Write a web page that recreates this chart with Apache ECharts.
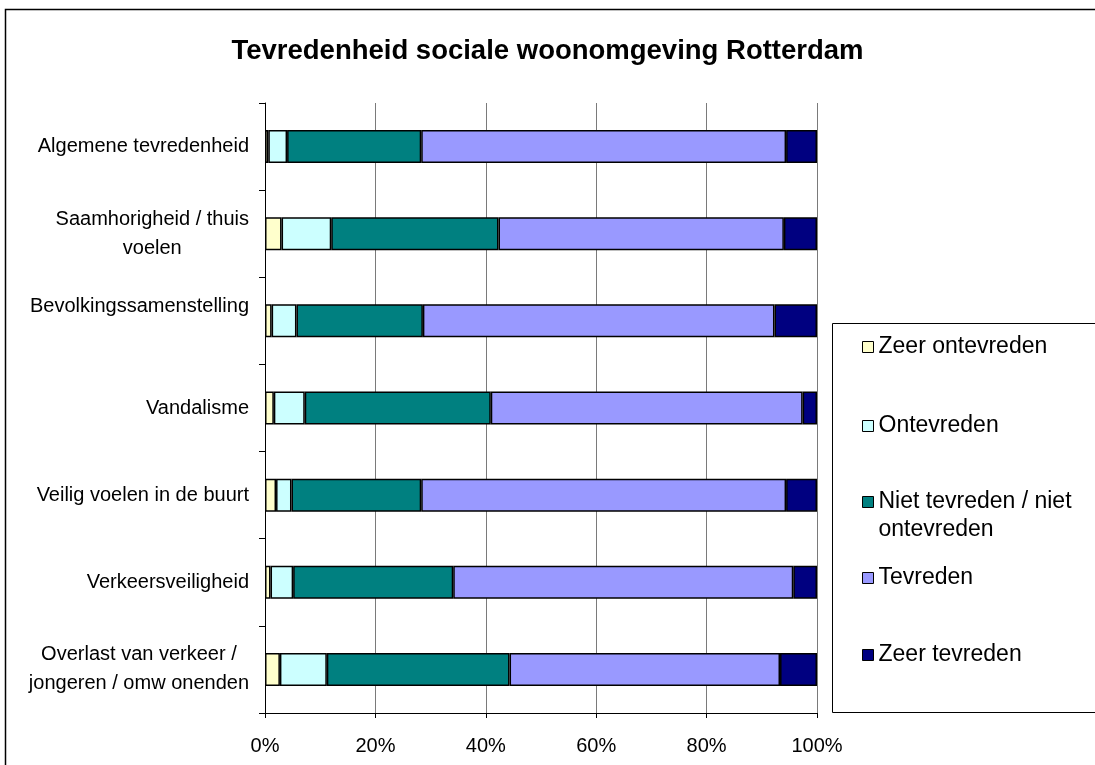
<!DOCTYPE html>
<html>
<head>
<meta charset="utf-8">
<title>Tevredenheid sociale woonomgeving Rotterdam</title>
<script src="https://cdn.jsdelivr.net/npm/echarts@6/dist/echarts.min.js"></script>
<style>
  html, body { margin: 0; padding: 0; background: #ffffff; }
  #chart { width: 1095px; height: 765px; }
</style>
</head>
<body>
<div id="chart"></div>
<script>
// Aspects of the social living environment, listed top to bottom
const categories = [
  'Algemene tevredenheid',
  'Saamhorigheid / thuis\nvoelen',
  'Bevolkingssamenstelling',
  'Vandalisme',
  'Veilig voelen in de buurt',
  'Verkeersveiligheid',
  'Overlast van verkeer /\njongeren / omw onenden'
];

// Share of respondents per answer (percent)
const zeerOntevreden = [0.6, 3.0, 1.2, 1.6, 2.0, 1.0, 2.7];
const ontevreden     = [3.4, 9.0, 4.5, 5.6, 2.8, 4.1, 8.5];
const neutraal       = [24.3, 30.3, 22.9, 33.7, 23.5, 29.0, 33.1];
const tevreden       = [66.1, 51.7, 63.7, 56.5, 66.1, 61.6, 49.0];
const zeerTevreden   = [5.6, 6.0, 7.7, 2.6, 5.6, 4.3, 6.7];

const seriesNames = [
  'Zeer ontevreden',
  'Ontevreden',
  'Niet tevreden / niet\nontevreden',
  'Tevreden',
  'Zeer tevreden'
];
const seriesData = [zeerOntevreden, ontevreden, neutraal, tevreden, zeerTevreden];
const seriesColors = ['#FFFFCC', '#CCFFFF', '#008080', '#9999FF', '#000080'];

const xTicks = [0, 20, 40, 60, 80, 100];

const FONT = '"Liberation Sans", Arial, sans-serif';
const LEGEND_LH = 28;

// One legend block per series so each entry sits on its own row;
// a wrapped entry keeps its marker level with its first line.
const legendRowCenters = [347, 426, 502, 578, 655];
const legends = seriesNames.map(function (name, i) {
  const twoLines = name.indexOf('\n') >= 0;
  return {
    data: [name],
    orient: 'vertical',
    left: 862,
    top: twoLines ? legendRowCenters[i] - 1.5 * LEGEND_LH : legendRowCenters[i] - LEGEND_LH / 2,
    padding: 0,
    itemWidth: 11,
    itemHeight: 11,
    icon: 'rect',
    selectedMode: false,
    formatter: function (n) {
      return n.indexOf('\n') >= 0 ? ' \n' + n : n;
    },
    itemStyle: { borderColor: '#000000', borderWidth: 1 },
    textStyle: {
      fontFamily: FONT,
      fontSize: 23,
      color: '#000000',
      lineHeight: LEGEND_LH
    }
  };
});

const chart = echarts.init(document.getElementById('chart'), null, { renderer: 'canvas' });

chart.setOption({
  backgroundColor: '#ffffff',
  animation: false,
  title: {
    text: 'Tevredenheid sociale woonomgeving Rotterdam',
    left: 'center',
    top: 32,
    padding: [5, 5, 5, 19],
    textStyle: {
      fontFamily: FONT,
      fontSize: 27.5,
      fontWeight: 'bold',
      color: '#000000'
    }
  },
  legend: legends,
  grid: {
    left: 265,
    right: 278,
    top: 103,
    bottom: 52,
    containLabel: false
  },
  xAxis: {
    type: 'value',
    min: xTicks[0],
    max: xTicks[xTicks.length - 1],
    interval: xTicks[1] - xTicks[0],
    axisLine: { show: true, lineStyle: { color: '#000000', width: 1 } },
    axisTick: { show: true, length: 5, lineStyle: { color: '#000000' } },
    axisLabel: {
      formatter: '{value}%',
      fontFamily: FONT,
      fontSize: 20,
      color: '#000000',
      margin: 23
    },
    splitLine: { show: true, lineStyle: { color: '#7a7a7a', width: 1 } }
  },
  yAxis: {
    type: 'category',
    data: categories,
    inverse: true,
    axisLine: { show: true, lineStyle: { color: '#000000', width: 1 } },
    axisTick: { show: true, length: 6, lineStyle: { color: '#000000' } },
    axisLabel: {
      fontFamily: FONT,
      fontSize: 20,
      color: '#000000',
      lineHeight: 29,
      margin: 16,
      align: 'right',
      // wrapped labels: lines centred on each other, block right-aligned
      formatter: function (v) {
        const lines = v.split('\n');
        if (v === 'Bevolkingssamenstelling') lines.push(' ');
        return lines.map(function (l) { return '{c|' + l + '}'; }).join('\n');
      },
      rich: {
        c: {
          align: 'center',
          fontFamily: FONT,
          fontSize: 20,
          color: '#000000',
          lineHeight: 29
        }
      }
    },
    splitLine: { show: false }
  },
  series: seriesNames.map(function (name, i) {
    return {
      name: name,
      type: 'bar',
      stack: 'total',
      barWidth: 33,
      data: seriesData[i],
      itemStyle: {
        color: seriesColors[i],
        borderColor: '#000000',
        borderWidth: 1.5
      },
      emphasis: { disabled: true }
    };
  }),
  graphic: [
    {
      // outer chart frame
      type: 'rect',
      shape: { x: 5.5, y: 9.5, width: 1200, height: 900 },
      style: { fill: 'none', stroke: '#000000', lineWidth: 1.5 },
      silent: true,
      z: -1
    },
    {
      // legend frame
      type: 'rect',
      shape: { x: 832.5, y: 323.5, width: 400, height: 389 },
      style: { fill: 'none', stroke: '#000000', lineWidth: 1 },
      silent: true,
      z: -1
    }
  ]
});
</script>
</body>
</html>
